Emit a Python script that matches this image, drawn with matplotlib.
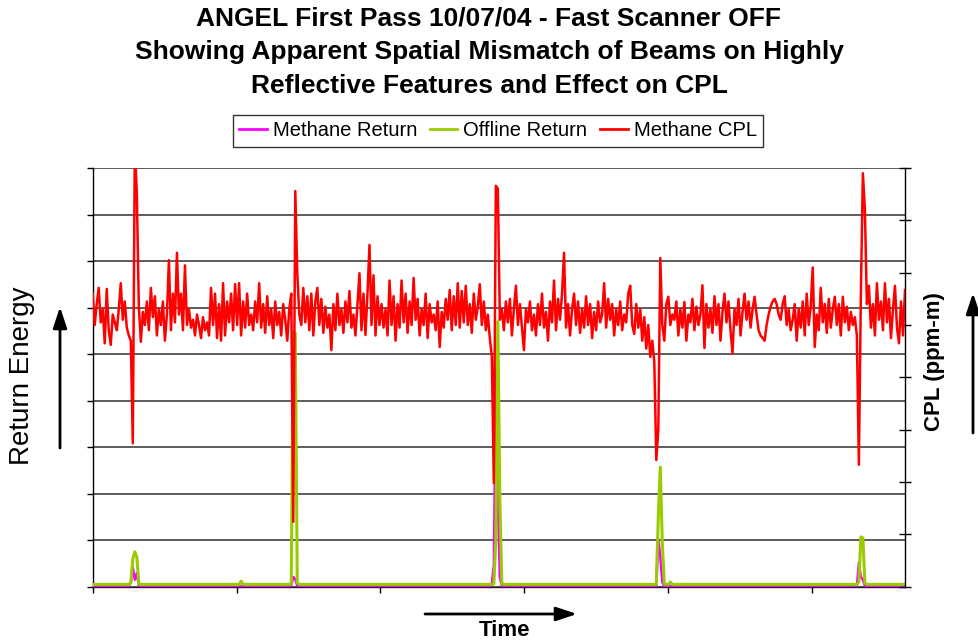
import numpy as np
import matplotlib
matplotlib.use("Agg")
import matplotlib.pyplot as plt

plt.rcParams['font.family'] = ['Liberation Sans', 'DejaVu Sans']

title_text = ("ANGEL First Pass 10/07/04 - Fast Scanner OFF\n"
              "Showing Apparent Spatial Mismatch of Beams on Highly\n"
              "Reflective Features and Effect on CPL")
legend_labels = ["Methane Return", "Offline Return", "Methane CPL"]
left_label = "Return Energy"
right_label = "CPL (ppm-m)"
bottom_label = "Time"

# Methane CPL (right axis, arbitrary units 0..800)
methane_cpl = [
    560, 500, 540, 571, 505, 530, 465, 569, 490, 462, 520, 505, 490, 530, 580, 510, 545, 495, 480, 470,
    274, 840, 752, 535,
    468, 525, 500, 545, 490, 571, 515, 555, 480, 530, 500, 545, 470, 520, 624, 490, 560, 505, 638, 520,
    560, 490, 614, 500, 530, 495,
    510, 480, 520, 500, 475, 515, 490, 505, 480, 571, 500, 560, 475, 540, 470, 580, 480, 545, 505, 560,
    490, 578, 500, 580, 480, 545, 495, 560, 500, 520, 490, 545, 505, 580, 495, 540, 485, 555, 500, 530,
    475, 545, 500, 525, 480, 540, 510, 470, 530, 560,
    124, 756, 600, 520,
    500, 571, 505, 555, 490, 560, 480, 545, 571, 500, 550, 485, 535, 495, 520, 452, 540, 490, 560, 500,
    530, 485, 545, 505, 565, 495, 520, 480, 540, 599, 490, 560, 481, 560, 653, 500, 595, 480, 555, 500,
    540,
    495, 530, 480, 585, 500, 555, 470, 540, 495, 585, 505, 560, 485, 545, 500, 590, 510, 550, 480, 530,
    500, 560, 475, 540, 505, 520, 490, 545, 458, 525, 495, 550, 510, 567, 490, 555, 500, 580, 495, 565,
    505, 575, 500, 540, 485, 560, 510, 535, 578, 500, 545, 490, 520, 475,
    440, 198, 766, 760, 510,
    530, 490, 545, 505, 550, 480, 530, 575, 500, 540, 495, 452, 530, 505, 545, 490, 520, 480, 540, 500,
    560, 495, 525, 470, 545, 505, 585, 490, 550, 510, 560, 638, 495, 540, 480, 530, 560, 500, 545, 485,
    530, 495, 555, 500, 540, 475, 525, 490, 545, 505, 520, 580, 495, 550, 510, 540, 480, 530, 500, 545,
    490, 520, 505, 560, 575, 500, 483, 540, 495, 530, 470, 515, 455, 500, 439, 470,
    430, 242, 300, 628, 500, 470, 540, 554, 500, 520,
    510, 545, 480, 530, 495, 544, 470, 520, 505, 550, 490, 535, 500, 520, 576, 456, 540, 495, 530, 485,
    555, 500, 540, 470, 525, 560, 505, 545, 490, 446, 530, 500, 550, 480, 525, 560, 510, 545, 495, 530,
    554, 520, 490, 480, 475, 470, 500, 520, 535, 545, 550, 540, 520, 510, 540, 555, 500, 530, 490, 510,
    540, 470, 530, 495, 545, 480, 560, 500, 535, 610, 458, 520, 490, 571, 505, 540, 485, 550, 495, 530,
    554, 500, 540, 480, 554, 505, 535, 490, 525, 500, 515,
    480, 233, 560, 790, 720, 540,
    575, 495, 540, 480, 580, 510, 545, 490, 580, 505, 550, 475, 530, 575, 495, 465, 545, 480, 567,
]

# Return energies (left axis, arbitrary units 0..900): flat baseline plus spikes
offline_baseline = 5
methane_baseline = 1
offline_spikes = {19: 8, 20: 60, 21: 75, 22: 64, 23: 6, 74: 12,
                  99: 6, 100: 548, 101: 545, 102: 8,
                  200: 6, 201: 100, 202: 570, 203: 186, 204: 6,
                  281: 6, 282: 150, 283: 257, 284: 94, 285: 6, 288: 10,
                  382: 10, 383: 107, 384: 105, 385: 8}
methane_spikes = {19: 10, 20: 42, 21: 15, 22: 29, 23: 2,
                  99: 2, 100: 21, 101: 16, 102: 2,
                  199: 5, 200: 46, 201: 466, 202: 186, 203: 20,
                  281: 2, 282: 102, 283: 64, 284: 10,
                  382: 52, 383: 21, 384: 15, 385: 2}

n = len(methane_cpl)
x = np.arange(n)
offline = np.full(n, float(offline_baseline))
for k, v in offline_spikes.items():
    offline[k] = v
methane = np.full(n, float(methane_baseline))
for k, v in methane_spikes.items():
    methane[k] = v

W, H = 979, 644
fig = plt.figure(figsize=(W / 100, H / 100), dpi=100)
fig.patch.set_facecolor('white')

ax = fig.add_axes([92.7 / W, 1 - 586.7 / H, (905 - 92.7) / W, (586.7 - 168) / H])
ax2 = ax.twinx()

c_mag = '#FF00FF'
c_grn = '#99CC00'
c_red = '#FF0000'

l1, = ax.plot(x, methane, color=c_mag, lw=1.8, zorder=3)
l2, = ax.plot(x, offline, color=c_grn, lw=2.2, zorder=4)
l3, = ax2.plot(x, methane_cpl, color=c_red, lw=1.8, zorder=3)

ax.set_xlim(0, n - 1)
ax.set_ylim(0, 900)
ax2.set_ylim(0, 800)

ax.set_yticks(np.arange(0, 901, 100))
ax2.set_yticks(np.arange(0, 801, 100))
ax.set_xticks(np.arange(0, n, 71.7))
for a in (ax, ax2):
    a.set_yticklabels([])
    a.set_xticklabels([])

ax.grid(axis='y', color='#303030', lw=1.1)
ax.set_axisbelow(True)
ax.tick_params(axis='y', direction='out', length=4, width=1, color='black')
ax.tick_params(axis='x', direction='out', length=4, width=1, color='black')
ax2.tick_params(axis='y', direction='inout', length=8, width=1, color='black')

for a in (ax, ax2):
    a.spines['top'].set_visible(False)
    a.patch.set_visible(False)
ax.spines['right'].set_visible(False)
ax2.spines['left'].set_visible(False)
ax2.spines['bottom'].set_visible(False)
ax.spines['left'].set_color('black')
ax.spines['bottom'].set_color('#202020')
ax2.spines['right'].set_color('black')
for s in ('left', 'bottom'):
    ax.spines[s].set_linewidth(1.0)
ax2.spines['right'].set_linewidth(1.0)

# Title
fig.text(489 / W, 1 - 52 / H, title_text, ha='center', va='center',
         fontsize=19, fontweight='bold', linespacing=1.52)

# Legend
leg = fig.legend([l1, l2, l3], legend_labels, loc='center',
                 bbox_to_anchor=(498 / W, 1 - 131 / H), ncol=3,
                 fontsize=14.5, frameon=True, fancybox=False,
                 edgecolor='black', handlelength=1.35, handletextpad=0.3,
                 columnspacing=0.65, borderpad=0.3)
leg.get_frame().set_linewidth(1.0)
for h in leg.legend_handles:
    h.set_linewidth(2.0)

# Axis labels
fig.text(22 / W, 1 - 376 / H, left_label, rotation=90, ha='center', va='center',
         fontsize=20)
fig.text(935 / W, 1 - 362 / H, right_label, rotation=90, ha='center', va='center',
         fontsize=16, fontweight='bold')
fig.text(505 / W, 1 - 631 / H, bottom_label, ha='center', va='center',
         fontsize=16, fontweight='bold')

# Arrows
arrow_kw = dict(arrowstyle='-|>,head_length=0.9,head_width=0.3', color='black', lw=2,
                shrinkA=0, shrinkB=0, mutation_scale=14)
fig.patches.append(matplotlib.patches.FancyArrowPatch(
    (60 / W, 1 - 448 / H), (60 / W, 1 - 307 / H), transform=fig.transFigure, **arrow_kw))
fig.patches.append(matplotlib.patches.FancyArrowPatch(
    (973 / W, 1 - 433 / H), (973 / W, 1 - 293 / H), transform=fig.transFigure, **arrow_kw))
fig.patches.append(matplotlib.patches.FancyArrowPatch(
    (425 / W, 1 - 614 / H), (577 / W, 1 - 614 / H), transform=fig.transFigure, **arrow_kw))

fig.savefig('out.png', dpi=100)
